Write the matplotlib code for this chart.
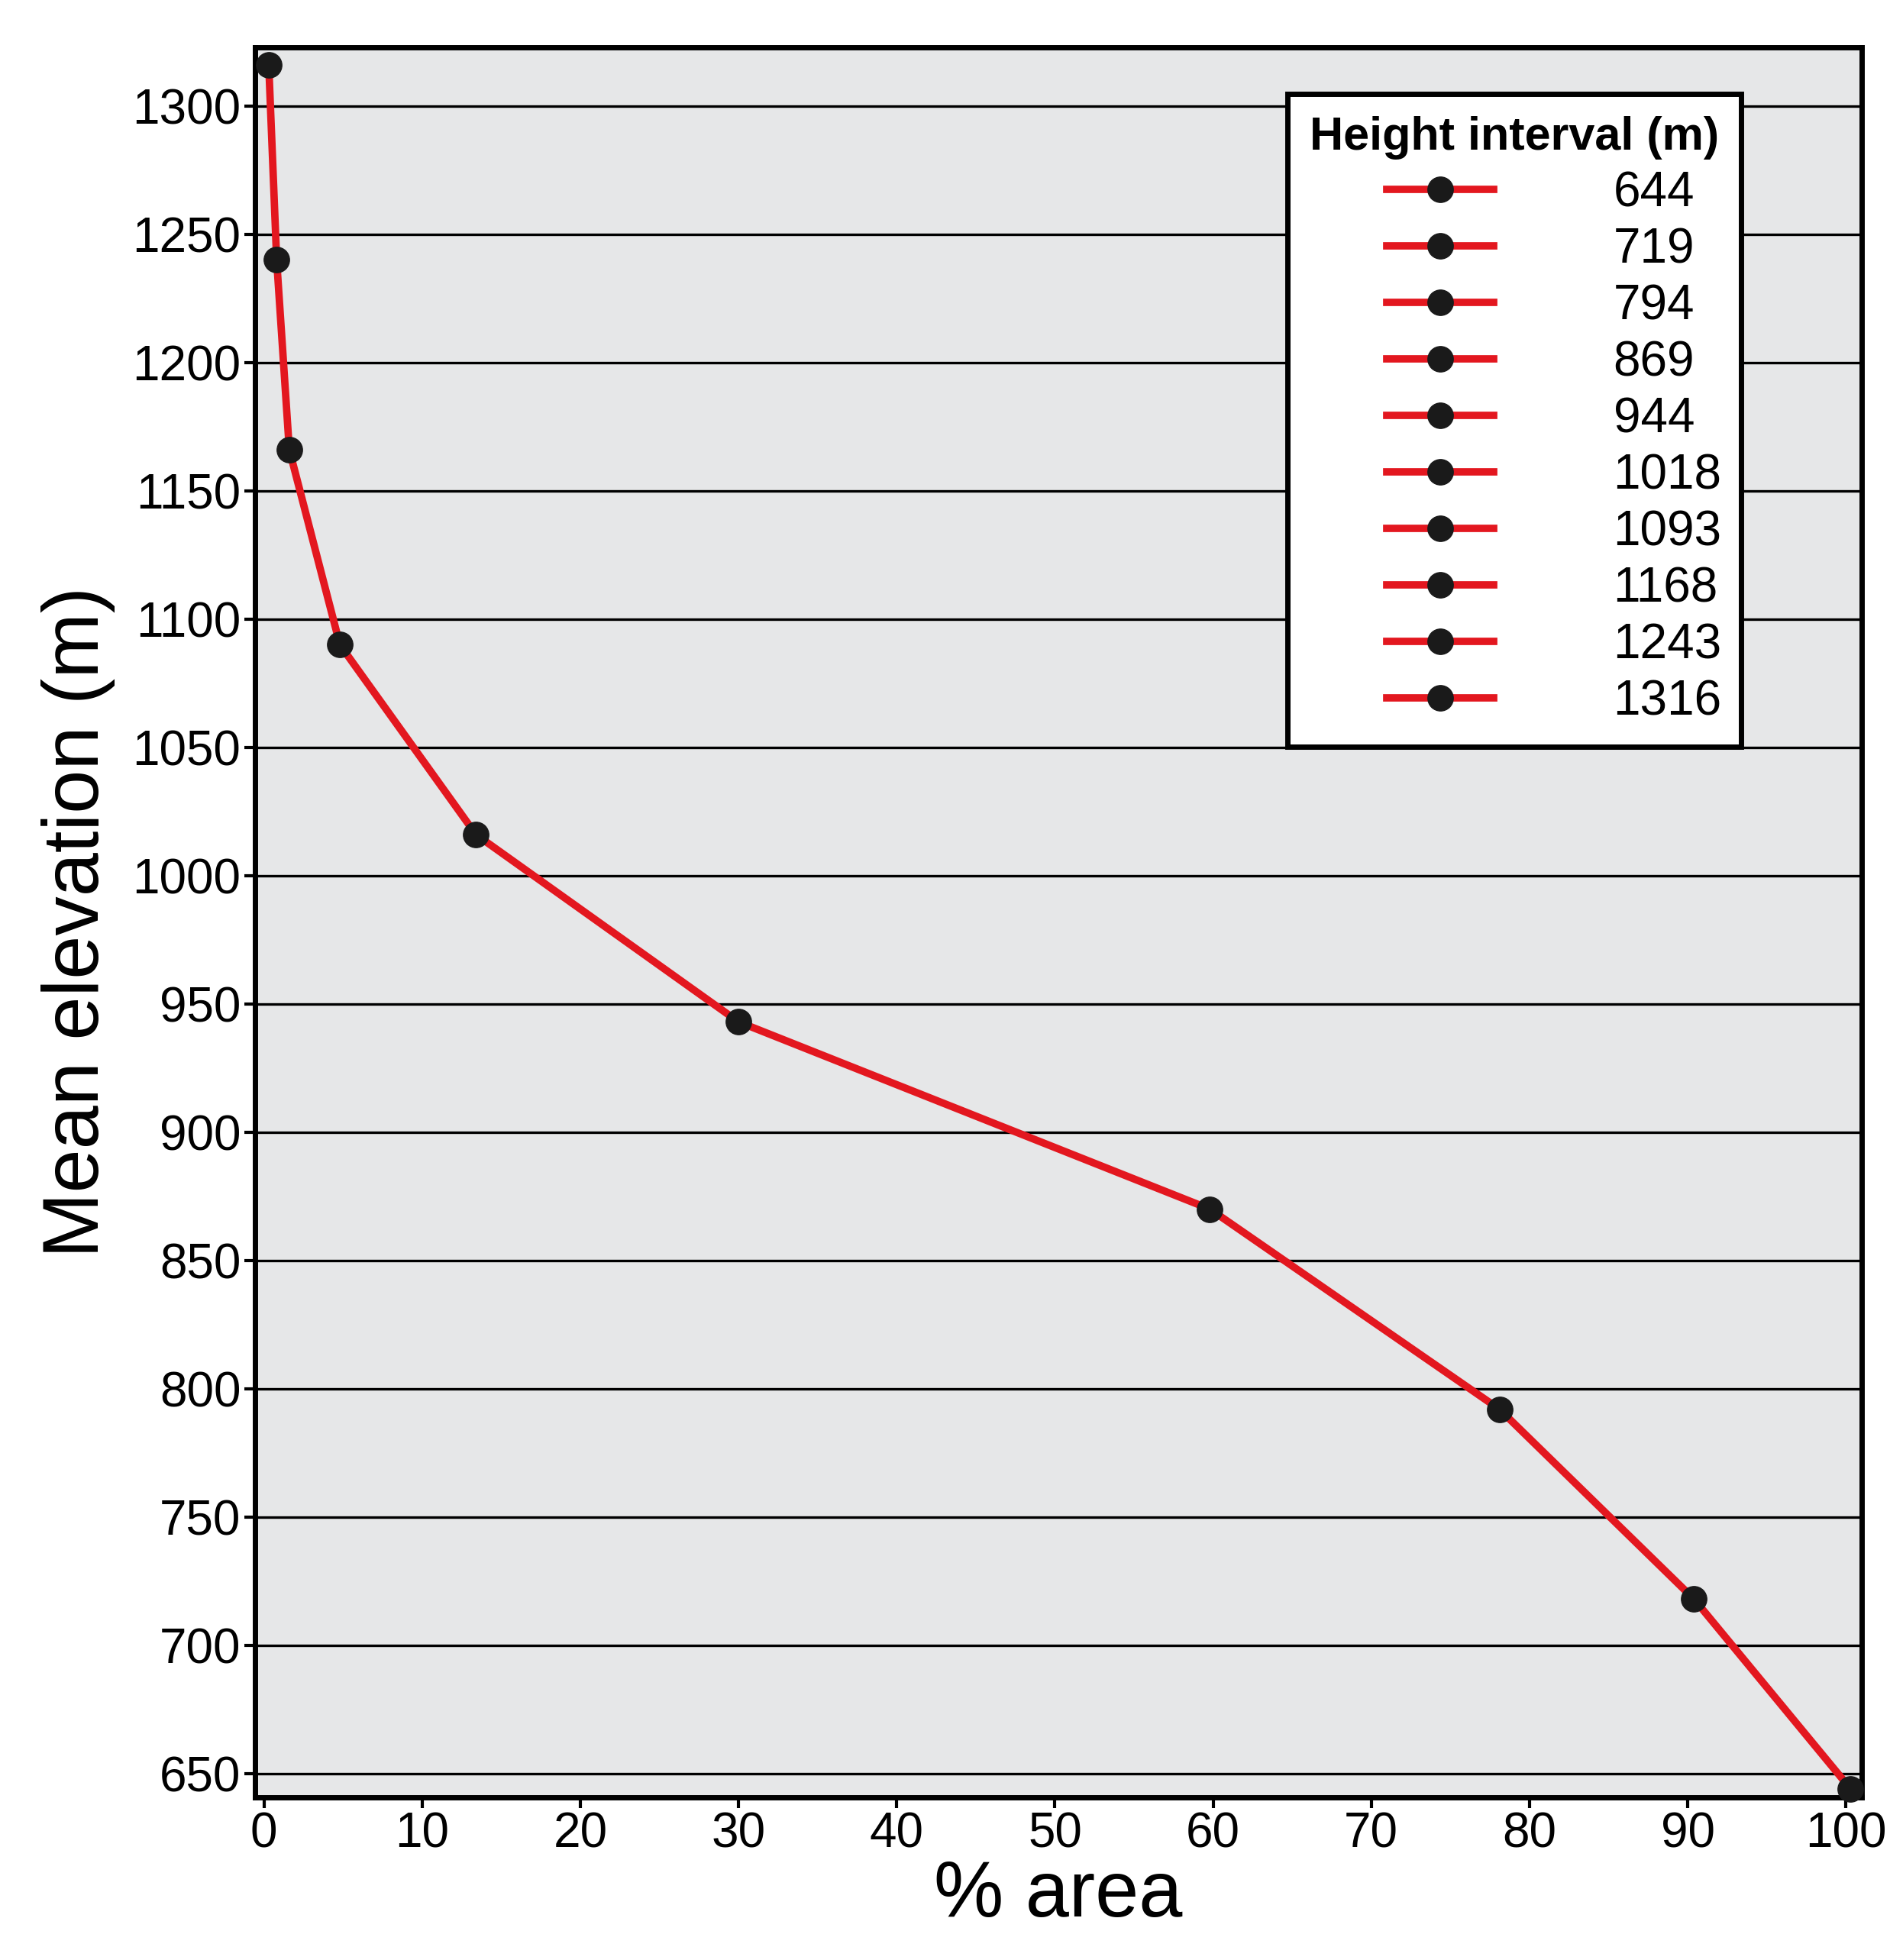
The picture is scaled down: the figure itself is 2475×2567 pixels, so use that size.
import matplotlib.pyplot as plt
from matplotlib.lines import Line2D

plt.rcParams["font.family"] = ["Liberation Sans", "DejaVu Sans"]

# --- data ---
pct_area = [0.3, 0.8, 1.6, 4.8, 13.4, 30.0, 59.8, 78.1, 90.4, 100.3]
mean_elev = [1316, 1240, 1166, 1090, 1016, 943, 870, 792, 718, 644]
intervals = ["644", "719", "794", "869", "944", "1018", "1093", "1168", "1243", "1316"]
xticks = list(range(0, 101, 10))
yticks = list(range(650, 1301, 50))

RED = "#e3171f"
BG = "#e6e7e8"

fig = plt.figure(figsize=(24.75, 25.67), dpi=100)
ax = fig.add_axes([0.135, 0.083, 0.85, 0.893])
ax.set_facecolor(BG)

for y in yticks:
    ax.axhline(y, color="black", lw=2.4, zorder=1)

ax.plot(pct_area, mean_elev, color=RED, lw=7, marker="o", ms=24,
        mfc="#1a1a1a", mec="#1a1a1a", zorder=3, clip_on=False)

ax.set_xlim(-0.56, 101)
ax.set_ylim(640.7, 1323)
ax.set_xticks(xticks)
ax.set_yticks(yticks)
ax.tick_params(labelsize=46, width=3, length=10)
for s in ax.spines.values():
    s.set_linewidth(5)

ax.set_xlabel("% area", fontsize=74, labelpad=2)
ax.set_ylabel("Mean elevation (m)", fontsize=74, labelpad=16)

handles = [Line2D([0], [0], color=RED, lw=7, marker="o", ms=24,
                  mfc="#1a1a1a", mec="#1a1a1a") for _ in intervals]
leg = ax.legend(handles, intervals, loc="upper right", fontsize=46,
                title="Height interval (m)", title_fontproperties={"size": 44, "weight": "bold"},
                frameon=True, fancybox=False, edgecolor="black", facecolor="white",
                framealpha=1, handlelength=2.2, labelspacing=0.22,
                borderpad=0.45, bbox_to_anchor=(0.94, 0.987))
leg.get_frame().set_linewidth(5)
for t in leg.get_texts():
    t.set_ha("right")
    t.set_position((105, 0))

fig.savefig("out.png", dpi=100)
